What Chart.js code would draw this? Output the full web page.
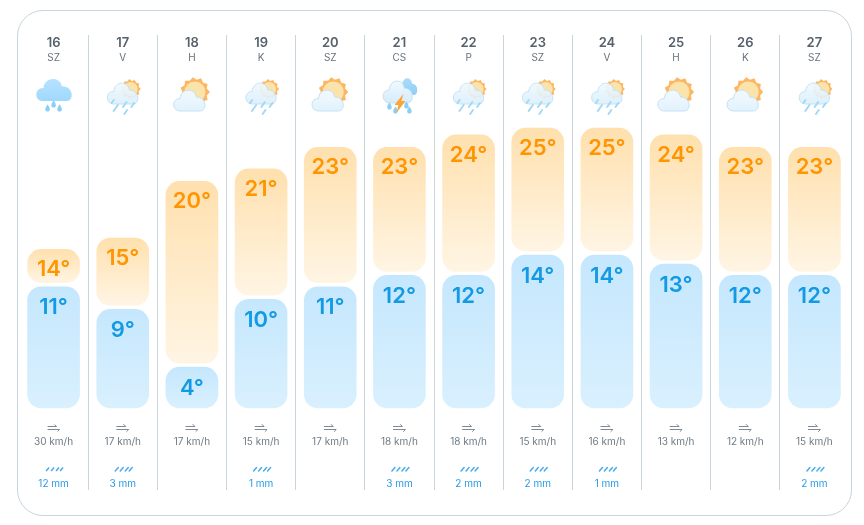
<!DOCTYPE html>
<html>
<head>
<meta charset="utf-8">
<title>Időjárás</title>
<script src="https://cdn.jsdelivr.net/npm/chart.js@4"></script>
<style>
  html, body { margin: 0; padding: 0; background: #fff; }
  #wrap { position: relative; width: 864px; height: 525px; overflow: hidden; }
  #card { position: absolute; left: 17px; top: 10px; width: 833px; height: 504px;
          border: 1px solid #c9d5dd; border-radius: 26px; }
  #chart { position: absolute; left: 0; top: 0; }
</style>
</head>
<body>
<div id="wrap">
  <div id="card"></div>
  <canvas id="chart" width="864" height="525"></canvas>
</div>
<script>
const days = ['16','17','18','19','20','21','22','23','24','25','26','27'];
const weekdays = ['SZ','V','H','K','SZ','CS','P','SZ','V','H','K','SZ'];
const highs = [14.0, 15.0, 20.0, 21.1, 23.0, 23.0, 24.1, 24.7, 24.7, 24.1, 23.0, 23.0];
const lows = [10.7, 8.7, 3.6, 9.6, 10.7, 11.7, 11.7, 13.5, 13.5, 12.7, 11.7, 11.7];
const wind = [30, 17, 17, 15, 17, 18, 18, 15, 16, 13, 12, 15];
const rain = [12, 3, null, 1, null, 3, 2, 2, 1, null, null, 2];
const icons = ['rain','sunRain','sunCloud','sunRain','sunCloud','storm','sunRain','sunRain','sunRain','sunCloud','sunCloud','sunRain'];

const tempFont = '600 22px Inter, sans-serif';
const smallFont = '10px Inter, sans-serif';
const gapDeg = 0.35; // rés a két oszlop között

function cloudPath(c, x, y, w, h) {
  c.beginPath();
  c.moveTo(x + h * 0.3, y + h);
  c.bezierCurveTo(x - h * 0.12, y + h, x - h * 0.12, y + h * 0.36, x + w * 0.2, y + h * 0.38);
  c.bezierCurveTo(x + w * 0.22, y - h * 0.16, x + w * 0.68, y - h * 0.18, x + w * 0.72, y + h * 0.3);
  c.bezierCurveTo(x + w * 1.06, y + h * 0.28, x + w * 1.08, y + h, x + w - h * 0.22, y + h);
  c.closePath();
}

function cloud(c, x, y, w, h, top, bottom, stroke) {
  const g = c.createLinearGradient(0, y, 0, y + h);
  g.addColorStop(0, top);
  g.addColorStop(1, bottom);
  cloudPath(c, x, y, w, h);
  c.fillStyle = g;
  c.fill();
  if (stroke) {
    c.strokeStyle = stroke;
    c.lineWidth = 1;
    c.stroke();
  }
}

function sun(c, x, y, r) {
  c.beginPath();
  const n = 11;
  for (let i = 0; i < n * 2; i++) {
    const a = i * Math.PI / n;
    const d = i % 2 ? r * 0.82 : r;
    c.lineTo(x + Math.cos(a) * d, y + Math.sin(a) * d);
  }
  c.closePath();
  c.fillStyle = '#fdb662';
  c.fill();
  c.beginPath();
  c.arc(x, y, r * 0.7, 0, Math.PI * 2);
  c.fillStyle = '#fbe4ab';
  c.fill();
}

function drop(c, x, y) {
  c.beginPath();
  c.moveTo(x, y - 3.5);
  c.bezierCurveTo(x + 3.5, y + 1, x + 2.5, y + 3.5, x, y + 3.5);
  c.bezierCurveTo(x - 2.5, y + 3.5, x - 3.5, y + 1, x, y - 3.5);
  c.fillStyle = '#8ad0f6';
  c.fill();
}

function streaks(c, cx) {
  c.strokeStyle = '#a3d8f6';
  c.lineWidth = 2;
  c.lineCap = 'round';
  [[-10, 100, 3], [-7, 105, 6], [2, 102, 5], [3, 110, 4], [10, 103, 4]].forEach(([dx, y, len]) => {
    c.beginPath();
    c.moveTo(cx + dx + len * 0.35, y);
    c.lineTo(cx + dx - len * 0.35, y + len);
    c.stroke();
  });
}

function drawIcon(c, kind, cx) {
  if (kind === 'rain') {
    [[-6, 108], [0, 104], [6, 108]].forEach(([dx, y]) => drop(c, cx + dx, y));
    cloud(c, cx - 17, 80, 35, 21, '#b6e2ff', '#9fd8fd');
  } else if (kind === 'sunRain') {
    sun(c, cx + 8, 89, 10);
    cloud(c, cx - 15, 84, 30, 20, 'rgba(240,248,254,0.95)', 'rgba(217,238,251,0.85)', '#c3e2f5');
    streaks(c, cx);
  } else if (kind === 'sunCloud') {
    sun(c, cx + 3, 92, 15);
    cloud(c, cx - 18, 91, 31, 20, '#f2f9fe', '#e2f2fd', '#c3e2f5');
  } else {
    cloud(c, cx - 1, 79, 19, 16, '#a9dbfb', '#8fcdf5');
    cloud(c, cx - 16, 82, 29, 21, '#eff8fe', '#d5ecfb', '#c3e2f5');
    [[-10, 106], [-4, 110], [7, 105], [10, 110]].forEach(([dx, y]) => drop(c, cx + dx, y));
    c.beginPath();
    c.moveTo(cx + 4, 94);
    c.lineTo(cx - 5, 105);
    c.lineTo(cx - 1, 105);
    c.lineTo(cx - 3, 113);
    c.lineTo(cx + 6, 101);
    c.lineTo(cx + 2, 101);
    c.closePath();
    c.fillStyle = '#fba535';
    c.fill();
  }
}

function windIcon(c, cx) {
  c.strokeStyle = '#7d8994';
  c.lineWidth = 1;
  c.beginPath();
  c.moveTo(cx - 6, 426.5); c.lineTo(cx + 3, 426.5); c.lineTo(cx + 1, 424.5);
  c.moveTo(cx - 6, 429.5); c.lineTo(cx + 6, 429.5); c.lineTo(cx + 4, 431.5);
  c.stroke();
}

function rainIcon(c, cx) {
  c.strokeStyle = '#4aace9';
  c.lineWidth = 1.5;
  c.beginPath();
  [-6, -1, 4, 8].forEach(dx => {
    c.moveTo(cx + dx - 1.5, 471);
    c.lineTo(cx + dx + 1.5, 467.5);
  });
  c.stroke();
}

function text(c, str, x, y, font, color) {
  c.font = font;
  c.fillStyle = color;
  c.textAlign = 'center';
  c.textBaseline = 'middle';
  c.fillText(str, x, y);
}

// napok, ikonok, szél és csapadék a tengely pozíciói szerint
const columnPlugin = {
  id: 'columns',
  afterDatasetsDraw(chart) {
    const c = chart.ctx;
    const xs = chart.scales.x;
    c.save();
    days.forEach((d, i) => {
      const cx = xs.getPixelForValue(i);
      text(c, d, cx, 43, '600 13px Inter, sans-serif', '#56616c');
      text(c, weekdays[i], cx, 58, smallFont, '#66727d');
      drawIcon(c, icons[i], cx);
      windIcon(c, cx);
      text(c, wind[i] + ' km/h', cx, 442, smallFont, '#6f7b86');
      if (rain[i] !== null) {
        rainIcon(c, cx);
        text(c, rain[i] + ' mm', cx, 484, smallFont, '#2a9be6');
      }
    });
    chart.getDatasetMeta(0).data.forEach((bar, i) => {
      text(c, Math.round(highs[i]) + '°', bar.x, bar.y + 20, tempFont, '#ff9500');
    });
    chart.getDatasetMeta(1).data.forEach((bar, i) => {
      text(c, Math.round(lows[i]) + '°', bar.x, bar.y + 21, tempFont, '#129ae4');
    });
    c.restore();
  }
};

// oszloponkénti színátmenet a tengely értékeiből
function barGradient(ctx, top, bottom) {
  if (!ctx.raw) return top;
  const ys = ctx.chart.scales.y;
  const y0 = ys.getPixelForValue(ctx.raw[1]);
  const y1 = ys.getPixelForValue(ctx.raw[0]);
  if (!Number.isFinite(y0) || !Number.isFinite(y1)) return top;
  const g = ctx.chart.ctx.createLinearGradient(0, y0, 0, y1);
  g.addColorStop(0, top);
  g.addColorStop(1, bottom);
  return g;
}

new Chart(document.getElementById('chart'), {
  type: 'bar',
  plugins: [columnPlugin],
  data: {
    labels: days,
    datasets: [
      {
        label: 'Max',
        data: highs.map((h, i) => [lows[i] + gapDeg, h]),
        backgroundColor: ctx => barGradient(ctx, '#ffe0ae', '#fff5e4')
      },
      {
        label: 'Min',
        data: lows.map(l => [0, l]),
        backgroundColor: ctx => barGradient(ctx, '#c5e7fd', '#d9f0fe')
      }
    ]
  },
  options: {
    responsive: false,
    animation: false,
    events: [],
    layout: { padding: { left: 19, right: 15, top: 35, bottom: 35 } },
    datasets: {
      bar: { grouped: false, barThickness: 52, borderRadius: 14, borderSkipped: false }
    },
    plugins: { legend: { display: false }, tooltip: { enabled: false } },
    scales: {
      x: {
        grid: {
          drawTicks: false,
          color: ctx => (ctx.type === 'tick' && ctx.index > 0) ? '#c9d5dd' : 'transparent'
        },
        border: { display: false },
        ticks: { display: false }
      },
      y: { display: false, min: -7.24, max: 32.92 }
    }
  }
});
</script>
</body>
</html>
